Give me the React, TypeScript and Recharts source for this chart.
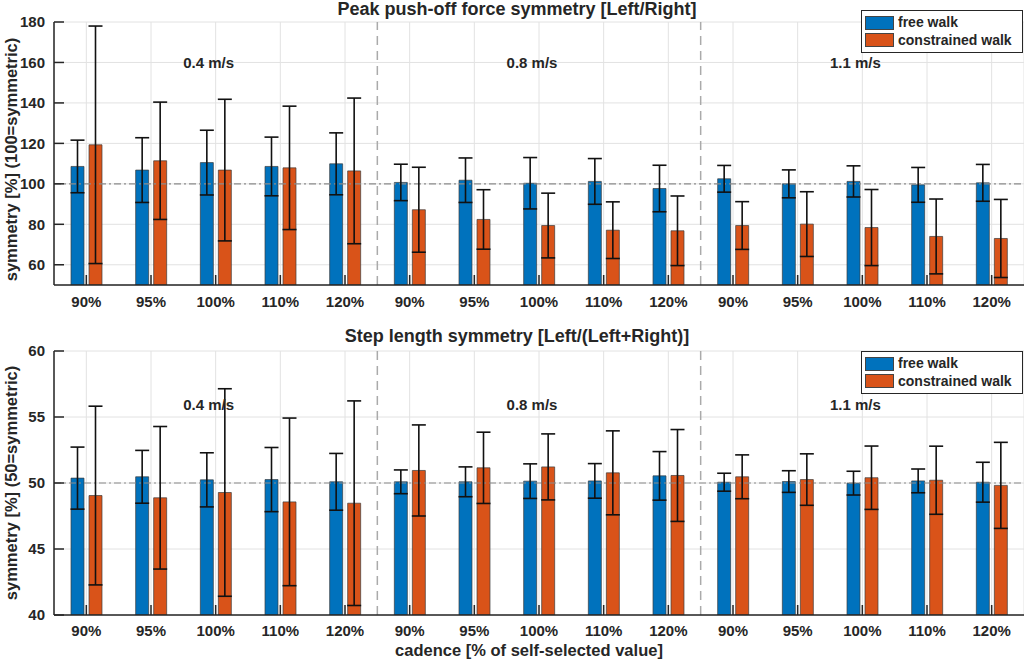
import React from 'react';
import {
  BarChart,
  Bar,
  XAxis,
  YAxis,
  CartesianGrid,
  ErrorBar,
  ReferenceLine,
  ReferenceDot,
  Legend,
} from 'recharts';

const speeds = ['0.4 m/s', '0.8 m/s', '1.1 m/s'];
const cadences = ['90%', '95%', '100%', '110%', '120%'];
// one group per speed/cadence pair
const categories = speeds.flatMap((s) => cadences.map((c) => `${s}|${c}`));

// Peak push-off force symmetry [Left/Right]
const pushFree = [108.6, 106.8, 110.5, 108.6, 109.9, 100.7, 101.8, 100.3, 101.2, 97.7, 102.5, 100.0, 101.2, 99.5, 100.5];
const pushFreeErr = [13.0, 16.0, 16.0, 14.5, 15.3, 9.0, 11.0, 12.7, 11.3, 11.5, 6.6, 6.9, 7.7, 8.6, 9.1];
const pushCons = [119.3, 111.4, 106.8, 107.9, 106.4, 87.2, 82.4, 79.4, 77.1, 76.8, 79.4, 80.1, 78.4, 74.0, 73.0];
const pushConsErr = [58.7, 29.0, 35.0, 30.5, 36.0, 21.0, 14.7, 16.0, 14.0, 17.2, 11.8, 16.0, 18.8, 18.5, 19.3];

// Step length symmetry [Left/(Left+Right)]
const stepFree = [50.37, 50.47, 50.24, 50.26, 50.09, 50.09, 50.09, 50.14, 50.16, 50.54, 50.06, 50.11, 49.99, 50.16, 50.06];
const stepFreeErr = [2.35, 2.0, 2.05, 2.43, 2.15, 0.9, 1.13, 1.31, 1.31, 1.84, 0.68, 0.82, 0.9, 0.9, 1.51];
const stepCons = [49.05, 48.88, 49.28, 48.57, 48.47, 50.95, 51.15, 51.22, 50.77, 50.57, 50.47, 50.26, 50.4, 50.21, 49.82];
const stepConsErr = [6.77, 5.4, 7.86, 6.35, 7.75, 3.45, 2.7, 2.5, 3.18, 3.48, 1.66, 1.95, 2.4, 2.58, 3.26];

const pushTicks = [60, 80, 100, 120, 140, 160, 180];
const stepTicks = [40, 45, 50, 55, 60];

const FONT = '"Liberation Sans", Arial, Helvetica, sans-serif';
const INK = '#262626';
const BLUE = '#0072BD';
const ORANGE = '#D95319';

const makeRows = (free: number[], freeErr: number[], cons: number[], consErr: number[]) =>
  categories.map((key, i) => ({
    key,
    free: free[i],
    freeErr: freeErr[i],
    cons: cons[i],
    consErr: consErr[i],
  }));

const pushRows = makeRows(pushFree, pushFreeErr, pushCons, pushConsErr);
const stepRows = makeRows(stepFree, stepFreeErr, stepCons, stepConsErr);

const LegendBox = () => (
  <div
    style={{
      background: '#fff',
      border: `1px solid ${INK}`,
      padding: '3px 10px 3px 3px',
      fontFamily: FONT,
      fontWeight: 'bold',
      fontSize: 14,
      color: INK,
      lineHeight: '17px',
      whiteSpace: 'nowrap',
    }}
  >
    {[
      ['free walk', BLUE],
      ['constrained walk', ORANGE],
    ].map(([name, color]) => (
      <div key={name} style={{ display: 'flex', alignItems: 'center', height: 17.5 }}>
        <span
          style={{
            display: 'inline-block',
            width: 27,
            height: 12,
            background: color,
            border: '1px solid #444',
            marginRight: 4,
          }}
        />
        {name}
      </div>
    ))}
  </div>
);

const tickStyle = { fill: INK, fontSize: 15, fontWeight: 'bold', fontFamily: FONT };

interface PanelProps {
  rows: typeof pushRows;
  domain: [number, number];
  ticks: number[];
  symLine: number;
  speedY: number;
  yLabel: string;
  yLabelShift: number;
  height: number;
  top: number;
  xHeight: number;
  xTickMargin: number;
  legendTop: number;
  xLabel?: string;
}

const Panel: React.FC<PanelProps> = ({
  rows, domain, ticks, symLine, speedY, yLabel, yLabelShift, height, top, xHeight, xTickMargin, legendTop, xLabel,
}) => (
  <BarChart
    width={1024}
    height={height}
    data={rows}
    margin={{ top, right: 0, left: 0, bottom: 0 }}
    barGap={5}
    style={{ fontFamily: FONT }}
  >
    <CartesianGrid stroke="#e2e2e2" strokeWidth={1} />
    <XAxis
      dataKey="key"
      interval={0}
      height={xHeight}
      tickFormatter={(k: string) => k.split('|')[1]}
      tick={tickStyle}
      tickSize={-10}
      tickMargin={xTickMargin}
      axisLine={{ stroke: INK, strokeWidth: 1.5 }}
      tickLine={{ stroke: INK, strokeWidth: 1.5 }}
      label={
        xLabel
          ? { value: xLabel, position: 'insideBottom', offset: 4, dx: -10, style: { ...tickStyle, fontSize: 16.5 } }
          : undefined
      }
    />
    <XAxis
      xAxisId="top"
      orientation="top"
      dataKey="key"
      interval={0}
      height={0}
      tickFormatter={() => ''}
      tickSize={-10}
      axisLine={{ stroke: INK, strokeWidth: 1.5 }}
      tickLine={{ stroke: INK, strokeWidth: 1.5 }}
    />
    <YAxis
      width={54}
      domain={domain}
      ticks={ticks}
      allowDataOverflow
      tick={tickStyle}
      tickSize={-10}
      tickMargin={19}
      axisLine={{ stroke: INK, strokeWidth: 1.5 }}
      tickLine={{ stroke: INK, strokeWidth: 1.5 }}
      label={{
        value: yLabel,
        angle: -90,
        position: 'insideLeft',
        offset: 11,
        dy: yLabelShift,
        style: { ...tickStyle, fontSize: 16.5, textAnchor: 'middle' },
      }}
    />
    <YAxis
      yAxisId="right"
      orientation="right"
      width={0}
      domain={domain}
      ticks={ticks}
      allowDataOverflow
      tickFormatter={() => ''}
      tickSize={-10}
      axisLine={{ stroke: INK, strokeWidth: 1.5 }}
      tickLine={{ stroke: INK, strokeWidth: 1.5 }}
    />
    <ReferenceLine y={symLine} stroke="#8c8c8c" strokeWidth={1.2} strokeDasharray="7 3 2 3" />
    <ReferenceLine x={categories[5]} position="start" stroke="#aaaaaa" strokeWidth={1.5} strokeDasharray="9 6" />
    <ReferenceLine x={categories[10]} position="start" stroke="#aaaaaa" strokeWidth={1.5} strokeDasharray="9 6" />
    <Bar dataKey="free" name="free walk" fill={BLUE} stroke="#3c3c3c" strokeWidth={0.7} barSize={13} isAnimationActive={false}>
      <ErrorBar dataKey="freeErr" width={7} stroke="#111" strokeWidth={1.6} />
    </Bar>
    <Bar dataKey="cons" name="constrained walk" fill={ORANGE} stroke="#3c3c3c" strokeWidth={0.7} barSize={13} isAnimationActive={false}>
      <ErrorBar dataKey="consErr" width={7} stroke="#111" strokeWidth={1.6} />
    </Bar>
    {speeds.map((s) => (
      <ReferenceDot
        key={s}
        x={`${s}|100%`}
        y={speedY}
        r={0}
        fill="none"
        stroke="none"
        ifOverflow="visible"
        label={{ value: s, position: 'center', dx: -7, style: tickStyle }}
      />
    ))}
    <Legend
      layout="horizontal"
      verticalAlign="middle"
      align="center"
      content={LegendBox}
      wrapperStyle={{ position: 'absolute', top: legendTop, left: 861, width: 'auto', height: 'auto' }}
    />
  </BarChart>
);

const titleStyle: React.CSSProperties = {
  position: 'absolute',
  left: 0,
  width: 1034,
  textAlign: 'center',
  fontFamily: FONT,
  fontWeight: 'bold',
  fontSize: 18,
  lineHeight: '18px',
  color: INK,
  zIndex: 2,
};

export default function App() {
  return (
    <div style={{ position: 'absolute', left: 0, top: 0, width: 1024, height: 660, overflow: 'hidden', background: '#fff' }}>
      <div style={{ position: 'absolute', left: 0, top: 0 }}>
        <Panel
          rows={pushRows}
          domain={[50, 180]}
          ticks={pushTicks}
          symLine={100}
          speedY={159.7}
          yLabel="symmetry [%] (100=symmetric)"
          yLabelShift={6}
          height={320}
          top={22}
          xHeight={35}
          xTickMargin={21}
          legendTop={10}
        />
      </div>
      <div style={{ position: 'absolute', left: 0, top: 320 }}>
        <Panel
          rows={stepRows}
          domain={[40, 60]}
          ticks={stepTicks}
          symLine={50}
          speedY={55.9}
          yLabel="symmetry [%] (50=symmetric)"
          yLabelShift={0}
          height={340}
          top={31}
          xHeight={45}
          xTickMargin={20}
          legendTop={31}
          xLabel="cadence [% of self-selected value]"
        />
      </div>
      <div style={{ ...titleStyle, top: 0 }}>Peak push-off force symmetry [Left/Right]</div>
      <div style={{ ...titleStyle, top: 327 }}>Step length symmetry [Left/(Left+Right)]</div>
    </div>
  );
}
